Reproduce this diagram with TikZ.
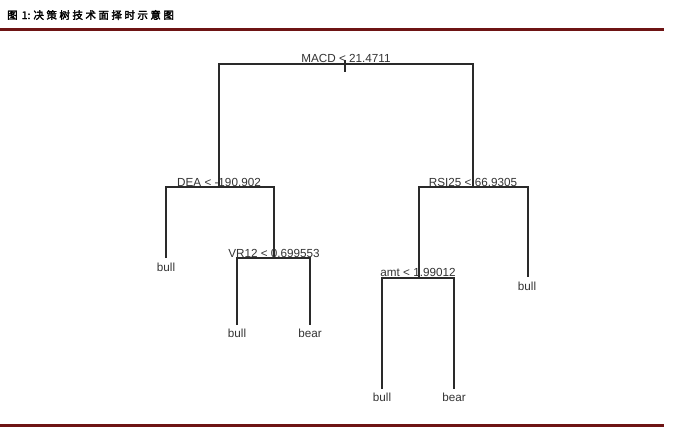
\documentclass[tikz,border=0pt]{standalone}
\usepackage{fontspec}
\setmainfont{Liberation Sans}
\newfontfamily\cjk[FakeBold=2.5]{Noto Sans CJK SC}
\definecolor{rulered}{HTML}{6E1414}
\definecolor{treeline}{HTML}{2A2A2A}
\definecolor{labeltext}{HTML}{333333}
\begin{document}
\begin{tikzpicture}[x=1pt,y=-1pt,
  lbl/.style={font=\fontsize{11.7}{12}\selectfont, text=labeltext, inner sep=0pt, anchor=center},
  edge/.style={draw=treeline, line width=1.2pt}]
\useasboundingbox (0,0) rectangle (676,427);
% title and rules
\node[anchor=west, inner sep=0pt, font=\cjk\fontsize{10.5}{12}\selectfont] (title) at (7,15) {图\hspace{4pt}1:\hspace{3pt}决\hspace{2.5pt}策\hspace{2.5pt}树\hspace{2.5pt}技\hspace{2.5pt}术\hspace{2.5pt}面\hspace{2.5pt}择\hspace{2.5pt}时\hspace{2.5pt}示\hspace{2.5pt}意\hspace{2.5pt}图};
\coordinate (tl) at (0,29.5); \coordinate (tr) at (664,29.5);
\coordinate (bl) at (0,425.5); \coordinate (br) at (664,425.5);
\draw[rulered, line width=2.2pt] (tl) -- (tr);
\draw[rulered, line width=2.2pt] (bl) -- (br);
% split coordinates
\coordinate (rootL) at (219,64); \coordinate (rootR) at (473,64);
\coordinate (rootT) at (345,60); \coordinate (rootB) at (345,72);
\coordinate (deaL) at (166,187); \coordinate (deaR) at (274,187);
\coordinate (rsiL) at (419,187); \coordinate (rsiR) at (528,187);
\coordinate (vrL) at (237,258); \coordinate (vrR) at (310,258);
\coordinate (amtL) at (382,278); \coordinate (amtR) at (454,278);
% leaves ends
\coordinate (leaf1) at (166,258);
\coordinate (leaf2) at (237,325); \coordinate (leaf3) at (310,325);
\coordinate (leaf4) at (382,389); \coordinate (leaf5) at (454,389);
\coordinate (leaf6) at (528,277);
% tree edges
\draw[edge] (rootL |- deaL) -- (rootL) -- (rootR) -- (rootR |- rsiL);
\draw[edge] (rootT) -- (rootB);
\draw[edge] (leaf1) -- (deaL) -- (deaR) -- (deaR |- vrL);
\draw[edge] (leaf2) -- (vrL) -- (vrR) -- (leaf3);
\draw[edge] (rsiL |- amtL) -- (rsiL) -- (rsiR) -- (leaf6);
\draw[edge] (leaf4) -- (amtL) -- (amtR) -- (leaf5);
% labels
\node[lbl] (macd) at (346,58) {MACD < 21.4711};
\node[lbl] (dea) at (219,182) {DEA < -190.902};
\node[lbl] (rsi) at (473,182) {RSI25 < 66.9305};
\node[lbl] (vr) at (274,253) {VR12 < 0.699553};
\node[lbl] (amt) at (418,272) {amt < 1.99012};
\node[lbl] (b1) at (166,267) {bull};
\node[lbl] (b2) at (237,333) {bull};
\node[lbl] (b3) at (310,333) {bear};
\node[lbl] (b4) at (382,397) {bull};
\node[lbl] (b5) at (454,397) {bear};
\node[lbl] (b6) at (527,286) {bull};
\end{tikzpicture}
\end{document}
